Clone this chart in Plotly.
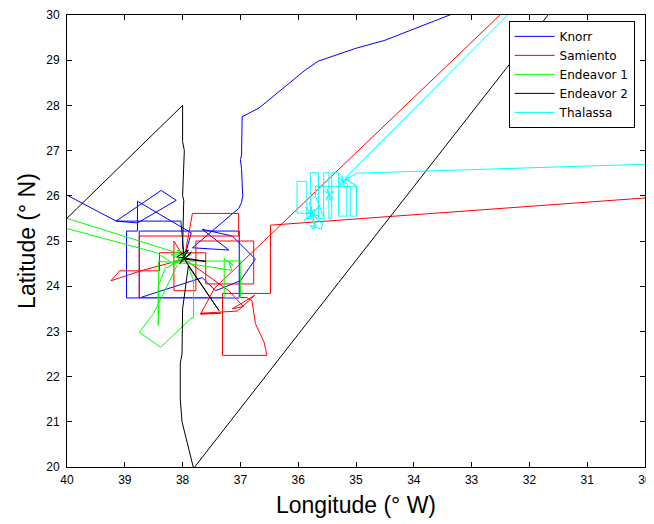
import plotly.graph_objects as go

# ---------------- data (lon in deg W, lat in deg N) ----------------
lon_ticks = [40, 39, 38, 37, 36, 35, 34, 33, 32, 31, 30]
lat_ticks = [20, 21, 22, 23, 24, 25, 26, 27, 28, 29, 30]

knorr_lon = [40.2, 39.15, 38.37, 38.11, 38.78, 39.15, 38.03, 37.97, 37.85, 38.78, 38.78, 38.97,
             38.97, 37.02, 37.02, 38.75, 38.75, 37.66, 37.43, 37.00, 36.74, 37.14, 37.66, 37.20,
             37.83, 37.03, 36.98, 36.96, 36.98, 37.00, 36.98, 36.97, 36.68, 36.05, 35.88, 35.65,
             35.01, 34.50, 33.98, 33.38, 32.80]
knorr_lat = [26.15, 25.44, 26.12, 25.90, 25.40, 25.44, 25.44, 24.62, 25.18, 25.88, 25.22, 25.22,
             23.74, 23.74, 25.22, 25.22, 23.74, 24.19, 23.90, 24.12, 24.60, 25.11, 25.26, 24.80,
             24.85, 25.72, 25.85, 26.00, 26.60, 26.80, 26.90, 27.75, 27.94, 28.61, 28.78, 28.98,
             29.26, 29.44, 29.70, 30.00, 30.25]

samiento_lon = [29.7, 36.48, 36.48, 37.31, 37.31, 36.54, 36.59, 36.74, 36.80, 36.89, 37.03, 38.75,
                38.75, 37.03, 37.03, 37.83, 37.97, 38.15, 38.15, 37.77, 37.77, 36.77, 36.77, 37.60,
                37.60, 38.40, 38.40, 39.09, 39.24, 38.72, 37.97, 37.20, 36.95, 37.14, 36.75, 37.05,
                37.69, 37.34, 37.69, 37.45, 32.51, 32.20]
samiento_lat = [25.98, 25.35, 23.84, 23.84, 22.47, 22.47, 22.76, 23.17, 23.68, 23.75, 23.75, 23.75,
                25.11, 25.11, 25.61, 25.61, 24.62, 25.00, 23.90, 23.90, 25.00, 25.00, 24.05, 24.05,
                24.74, 24.74, 24.34, 24.34, 24.12, 24.34, 24.60, 23.90, 23.55, 23.50, 23.80, 23.45,
                23.40, 23.40, 23.38, 23.95, 30.00, 30.38]

endeavor1_lon = [40.3, 37.95, 38.20, 37.90, 38.10, 37.85, 38.15, 37.75, 36.99, 37.00, 37.28, 37.28,
                 37.12, 37.20, 37.15, 37.90, 38.42, 38.42, 38.42, 38.30, 37.95, 37.81, 37.81, 37.86,
                 38.38, 38.75, 38.50, 38.10, 38.45, 40.3]
endeavor1_lat = [25.62, 24.68, 24.70, 24.50, 24.80, 24.70, 24.55, 24.55, 24.56, 23.75, 23.75, 24.62,
                 24.45, 24.55, 24.35, 24.50, 24.55, 23.13, 24.00, 24.40, 24.62, 24.12, 23.30, 23.28,
                 22.65, 22.98, 23.40, 24.45, 24.74, 25.38]

endeavor2_lon = [40.3, 38.0, 38.0, 37.97, 38.0, 37.98, 38.0, 37.97, 37.85, 38.05, 37.90, 38.10,
                 37.60, 37.97, 37.37, 37.90, 38.0, 38.01, 38.04, 38.04, 38.01, 37.81, 35.30, 31.68, 31.50]
endeavor2_lat = [25.13, 28.0, 27.2, 27.0, 26.0, 25.9, 24.9, 24.6, 24.75, 24.50, 24.80, 24.65,
                 24.55, 24.6, 23.46, 24.45, 23.5, 22.5, 22.3, 21.5, 21.0, 19.97, 24.08, 30.0, 30.29]

thalassa_lon = [29.7, 34.99, 35.22,
                35.12, 35.22, 35.30, 35.22, 35.28, 35.22, 35.14, 35.22, 35.25, 35.20, 35.30, 35.15,
                34.99, 34.99, 35.10, 35.10, 35.16, 35.16, 35.30, 35.30, 35.42, 35.42, 35.47, 35.47,
                35.38, 35.47, 35.55, 35.47, 35.52, 35.47, 35.40, 35.47, 35.50, 35.44, 35.47,
                35.47, 35.56, 35.56, 35.65, 35.65, 35.79, 35.79, 35.85, 35.85, 36.02, 36.02, 35.75,
                35.88, 35.75, 35.62, 35.75, 35.90, 35.75, 35.60, 35.75, 35.72, 35.75, 35.80, 35.75,
                35.65, 35.85, 35.70, 35.78, 35.68, 35.74, 35.80, 35.60, 35.55, 35.70, 35.70, 34.99,
                35.19, 32.38, 32.20]
thalassa_lat = [26.71, 26.50, 26.32,
                26.42, 26.32, 26.40, 26.32, 26.22, 26.32, 26.25, 26.32, 26.45, 26.20, 26.30, 26.35,
                26.21, 25.55, 25.55, 26.21, 26.21, 25.55, 25.55, 26.51, 26.51, 25.50, 25.50, 26.03,
                26.10, 26.03, 26.12, 26.03, 25.92, 26.03, 25.95, 26.03, 26.15, 25.90, 26.03,
                26.51, 26.51, 25.50, 25.50, 26.51, 26.51, 25.50, 25.50, 26.32, 26.32, 25.62, 25.60,
                25.75, 25.60, 25.80, 25.60, 25.45, 25.60, 25.40, 25.60, 25.30, 25.60, 25.85, 25.60,
                25.55, 25.62, 25.70, 25.50, 25.35, 25.26, 25.35, 25.26, 25.50, 25.99, 26.21, 26.21,
                26.39, 30.00, 30.23]

ships = [
    ("Knorr", knorr_lon, knorr_lat, "#0000ff"),
    ("Samiento", samiento_lon, samiento_lat, "#ff0000"),
    ("Endeavor 1", endeavor1_lon, endeavor1_lat, "#00ff00"),
    ("Endeavor 2", endeavor2_lon, endeavor2_lat, "#000000"),
    ("Thalassa", thalassa_lon, thalassa_lat, "#00ffff"),
]

fig = go.Figure()
for name, lon, lat, color in ships:
    fig.add_trace(go.Scatter(x=lon, y=lat, mode="lines", name=name,
                             line=dict(color=color, width=1)))

# the page body adds an 8 px offset, so the figure is 8 px smaller on each side
font_family = "Liberation Sans, Arial, sans-serif"
fig.update_layout(
    width=646, height=516,
    margin=dict(l=59, r=9, t=7, b=57, autoexpand=False),
    plot_bgcolor="white", paper_bgcolor="white",
    font=dict(family=font_family, size=12, color="black"),
    showlegend=True,
    legend=dict(x=0.764, y=0.987, xanchor="left", yanchor="top",
                bordercolor="black", borderwidth=1, bgcolor="white",
                font=dict(size=12, family="DejaVu Sans, sans-serif"),
                tracegroupgap=0, itemwidth=40),
)
fig.update_xaxes(
    range=[40, 30], tickmode="array", tickvals=lon_ticks,
    ticktext=[str(v) for v in lon_ticks],
    ticks="inside", ticklen=5, tickcolor="black",
    showline=True, linecolor="black", linewidth=1, mirror="ticks",
    showgrid=False, zeroline=False, automargin=False,
    ticklabeloverflow="allow", ticklabelstandoff=2,
    title=dict(text="Longitude (° W)", font=dict(size=23), standoff=10),
)
fig.update_yaxes(
    range=[20, 30], tickmode="array", tickvals=lat_ticks,
    ticktext=[str(v) for v in lat_ticks],
    ticks="inside", ticklen=5, tickcolor="black",
    showline=True, linecolor="black", linewidth=1, mirror="ticks",
    showgrid=False, zeroline=False, automargin=False,
    ticklabeloverflow="allow", ticklabelstandoff=4,
    title=dict(text="Latitude (° N)", font=dict(size=23), standoff=4),
)

fig.write_html("out.html")
